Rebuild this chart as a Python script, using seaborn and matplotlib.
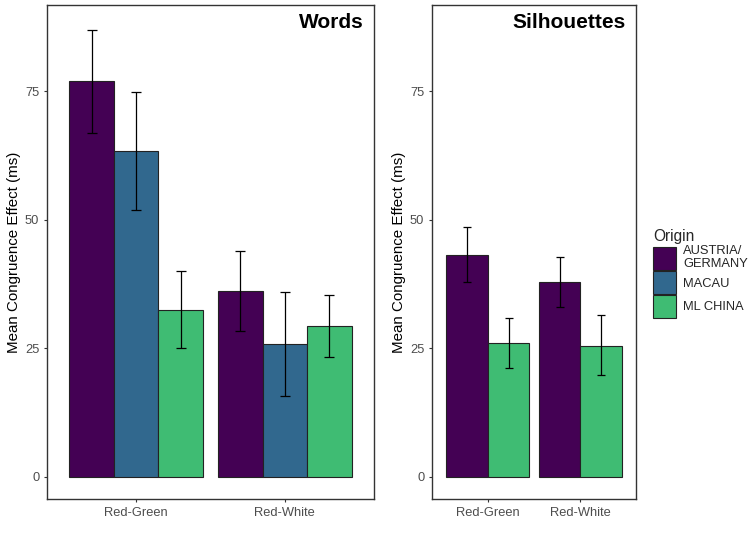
import pandas as pd
import matplotlib.pyplot as plt
import seaborn as sns
from matplotlib.patches import Patch

# data
conditions = ['Red-Green', 'Red-White']
origins = ['AUSTRIA/\nGERMANY', 'MACAU', 'ML CHINA']
colors = ['#440154', '#31688E', '#3FBC73']

# Words panel: mean, lower and upper error bar per origin (Red-Green, Red-White)
words_austria = [77.0, 36.1]
words_austria_lo = [66.9, 28.3]
words_austria_hi = [87.0, 43.9]
words_macau = [63.4, 25.8]
words_macau_lo = [51.8, 15.6]
words_macau_hi = [74.8, 35.9]
words_china = [32.5, 29.3]
words_china_lo = [25.0, 23.2]
words_china_hi = [40.1, 35.3]

# Silhouettes panel (no Macau group)
sil_austria = [43.1, 37.9]
sil_austria_lo = [37.9, 33.1]
sil_austria_hi = [48.5, 42.7]
sil_china = [26.0, 25.5]
sil_china_lo = [21.1, 19.8]
sil_china_hi = [30.9, 31.4]

y_ticks = [0, 25, 50, 75]


def make_frame(groups):
    rows = []
    for origin, mean, lo, hi in groups:
        for i, cond in enumerate(conditions):
            rows.append({'condition': cond, 'origin': origin,
                         'mean': mean[i], 'lo': lo[i], 'hi': hi[i]})
    return pd.DataFrame(rows)


words = make_frame([
    (origins[0], words_austria, words_austria_lo, words_austria_hi),
    (origins[1], words_macau, words_macau_lo, words_macau_hi),
    (origins[2], words_china, words_china_lo, words_china_hi),
])
sil = make_frame([
    (origins[0], sil_austria, sil_austria_lo, sil_austria_hi),
    (origins[2], sil_china, sil_china_lo, sil_china_hi),
])

sns.set_theme(style='white')
plt.rcParams['font.family'] = ['Liberation Sans', 'DejaVu Sans']

palette = dict(zip(origins, colors))

fig = plt.figure(figsize=(7.52, 5.48), dpi=100)
ax1 = fig.add_axes([47 / 752, 1 - 499 / 548, 327 / 752, 494 / 548])
ax2 = fig.add_axes([432 / 752, 1 - 499 / 548, 204 / 752, 494 / 548])


def draw_panel(ax, df, title, cap):
    levels = [o for o in origins if o in set(df['origin'])]
    sns.barplot(data=df, x='condition', y='mean', hue='origin', order=conditions,
                hue_order=levels, palette=palette, errorbar=None, width=0.9,
                edgecolor='#222222', linewidth=0.8, saturation=1, legend=False, ax=ax)
    # error bars placed at the centres of the bars seaborn drew
    for level, container in zip(levels, ax.containers):
        sub = df[df['origin'] == level].set_index('condition').loc[conditions]
        xs = [b.get_x() + b.get_width() / 2 for b in container]
        ax.errorbar(xs, sub['mean'], yerr=[sub['mean'] - sub['lo'], sub['hi'] - sub['mean']],
                    fmt='none', ecolor='black', elinewidth=0.9, capsize=cap, capthick=0.9)
    ax.set_xlim(-0.6, 1.6)
    ax.set_ylim(-4.37, 91.8)
    ax.set_yticks(y_ticks)
    ax.set_xlabel('')
    ax.set_ylabel('Mean Congruence Effect (ms)', fontsize=10.9, color='black', labelpad=3)
    ax.tick_params(axis='both', which='both', length=2.5, width=0.8, color='#333333',
                   labelsize=9.3, labelcolor='#4D4D4D', pad=3, bottom=True, left=True)
    for s in ax.spines.values():
        s.set_color('#333333')
        s.set_linewidth(1.0)
    ax.text(1 - 10 / (ax.get_position().width * 752), 1 - 17 / 494, title,
            transform=ax.transAxes, ha='right', va='center',
            fontsize=15, fontweight='bold', color='black')


draw_panel(ax1, words, 'Words', 3.6)
draw_panel(ax2, sil, 'Silhouettes', 2.9)

handles = [Patch(facecolor=c, edgecolor='#222222', linewidth=0.8) for c in colors]
leg = fig.legend(handles, origins, title='Origin', loc='upper left',
                 bbox_to_anchor=(644 / 752, 1 - 220 / 548), frameon=False,
                 fontsize=9.3, title_fontsize=11.2, handlelength=1.75, handleheight=2.35,
                 handletextpad=0.6, labelspacing=0.05, borderpad=0.2, alignment='left')

fig.savefig('out.png', dpi=100)
